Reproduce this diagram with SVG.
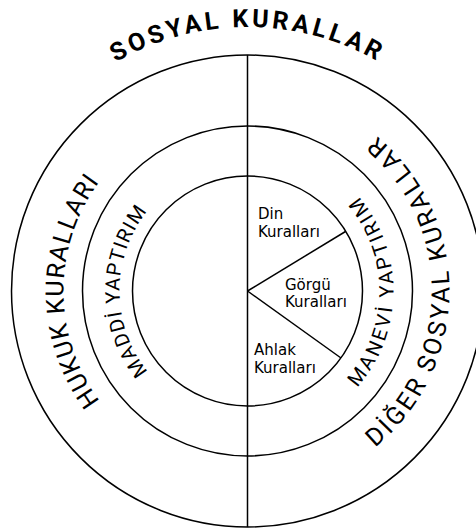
<svg xmlns="http://www.w3.org/2000/svg" width="476" height="529" viewBox="0 0 476 529">
<style>
.ring{fill:none;stroke:#000;stroke-width:1.5}
.ln{stroke:#000;stroke-width:1.5;fill:none}
.arc{font-family:Roboto,"DejaVu Sans",sans-serif;fill:#000}
.big{font-size:25px}
.mid{font-size:20px}
.title{font-family:Roboto,"DejaVu Sans",sans-serif;font-weight:bold;font-size:25px;fill:#000}
.lab{font-family:"DejaVu Sans",sans-serif;font-size:15px;fill:#000}
</style>
<defs>
<path id="pTitle" d="M -16.5 291 A 264 264 0 0 1 511.5 291"/>
<path id="pHukuk" d="M 247.5 475 A 184 184 0 0 1 247.5 107"/>
<path id="pMaddi" d="M 247.5 419 A 128 128 0 0 1 247.5 163"/>
<path id="pDiger" d="M 247.5 493 A 202 202 0 0 0 247.5 89"/>
<path id="pManevi" d="M 247.5 437 A 146 146 0 0 0 247.5 145"/>
</defs>
<rect width="476" height="529" fill="#fff"/>
<g id="outer-ring">
<circle class="ring" cx="247.5" cy="291" r="236"/>
<text class="title" text-anchor="middle" letter-spacing="3.5"><textPath href="#pTitle" startOffset="50%">SOSYAL KURALLAR</textPath></text>
<text class="arc big" text-anchor="middle" letter-spacing="1.25"><textPath href="#pHukuk" startOffset="50%">HUKUK KURALLARI</textPath></text>
<text class="arc big" text-anchor="middle" letter-spacing="3"><textPath href="#pDiger" startOffset="50%">DİĞER SOSYAL KURALLAR</textPath></text>
</g>
<g id="middle-ring">
<circle class="ring" cx="247.5" cy="291" r="165"/>
<text class="arc mid" text-anchor="middle" letter-spacing="1.25"><textPath href="#pMaddi" startOffset="50%">MADDİ YAPTIRIM</textPath></text>
<text class="arc mid" text-anchor="middle" letter-spacing="2.8"><textPath href="#pManevi" startOffset="50%">MANEVİ YAPTIRIM</textPath></text>
</g>
<g id="inner-circle">
<circle class="ring" cx="247.5" cy="291" r="115"/>
</g>
<g id="connectors">
<line class="ln" x1="247.5" y1="55" x2="247.5" y2="527"/>
<line class="ln" x1="247.5" y1="291" x2="345.5" y2="231.5"/>
<line class="ln" x1="247.5" y1="291" x2="341" y2="358"/>
</g>
<g id="din">
<text class="lab" x="258" y="219">Din</text>
<text class="lab" x="258" y="236.5">Kuralları</text>
</g>
<g id="gorgu">
<text class="lab" x="285" y="290">Görgü</text>
<text class="lab" x="285" y="307">Kuralları</text>
</g>
<g id="ahlak">
<text class="lab" x="254" y="355">Ahlak</text>
<text class="lab" x="254" y="372.5">Kuralları</text>
</g>
</svg>
